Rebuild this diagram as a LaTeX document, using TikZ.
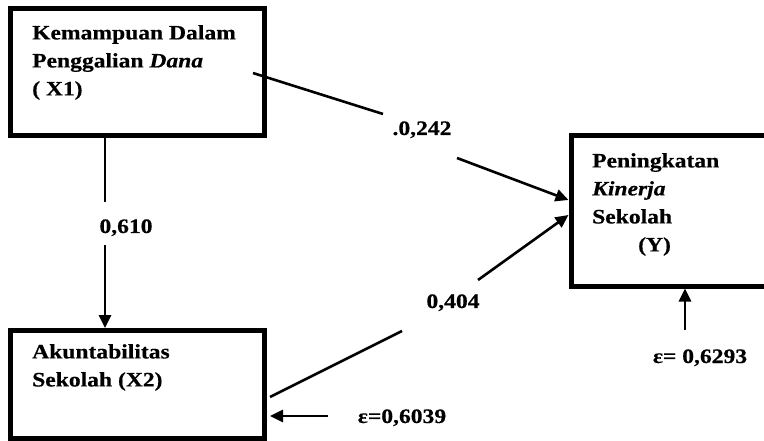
\documentclass[tikz,border=0pt]{standalone}
\usepackage{fontspec}
\newfontfamily\lab[FakeStretch=1.15,FakeBold=0.5]{Liberation Serif}
\usetikzlibrary{arrows.meta,calc}
\tikzset{
  box/.style={draw, line width=5pt, inner sep=0pt},
  txt/.style={font=\lab\bfseries\fontsize{20.5pt}{28pt}\selectfont, inner sep=0pt, align=left},
  lbl/.style={font=\lab\bfseries\fontsize{20.5pt}{28pt}\selectfont, inner sep=0pt, anchor=base},
  conn/.style={line width=2.6pt},
  arr/.style={line width=2.6pt, -{Triangle[length=13pt,width=12pt]}}
}
\begin{document}
\begin{tikzpicture}[x=1pt,y=-1pt]
\useasboundingbox (0,0) rectangle (764,441);
\clip (0,0) rectangle (764,441);
% boxes
\node[box, minimum width=254pt, minimum height=127pt] (X1) at (137.5,72) {};
\node[box, minimum width=254pt, minimum height=108pt] (X2) at (137.5,384.5) {};
\node[box, minimum width=199pt, minimum height=150pt] (Y) at (670.5,211) {};
% box texts
\node[txt, anchor=north west] (tX1) at (32,25) {Kemampuan Dalam\\Penggalian \textit{Dana}\\( X1)};
\node[txt, anchor=north west] (tX2) at (32,344) {Akuntabilitas\\Sekolah (X2)};
\node[txt, anchor=north west] (tY) at (592,153) {Peningkatan\\\textit{Kinerja}\\Sekolah\\\hspace*{46pt}(Y)};
% coordinates for breaks
\coordinate (a1) at (105,202);
\coordinate (a2) at (105,245);
\coordinate (b0) at (253,73);
\coordinate (b1) at (383,114);
\coordinate (b2) at (457,158);
\coordinate (bt) at (568,200);
\coordinate (c0) at (270,397);
\coordinate (c1) at (402,331);
\coordinate (c2) at (478,280);
\coordinate (ct) at (568,215);
\coordinate (eY) at (685,330);
\coordinate (eX) at (328,416);
% connectors
\draw[conn] (X1.south -| a1) -- (a1);
\draw[arr] (a2) -- (X2.north -| a2);
\draw[conn] (b0) -- (b1);
\draw[arr] (b2) -- (Y.west |- bt);
\draw[conn] (c0) -- (c1);
\draw[arr] (c2) -- (Y.west |- ct);
\draw[arr] (eY) -- (eY |- Y.south);
\draw[arr, shorten >=3pt] (eX) -- (eX -| X2.east);
% labels
\node[lbl] (l1) at (126,233) {0,610};
\node[lbl] (l2) at (422,135) {.0,242};
\node[lbl] (l3) at (453,308) {0,404};
\node[lbl] (l4) at (402,423) {ε=0,6039};
\node[lbl] (l5) at (700,363) {ε= 0,6293};
\end{tikzpicture}
\end{document}
